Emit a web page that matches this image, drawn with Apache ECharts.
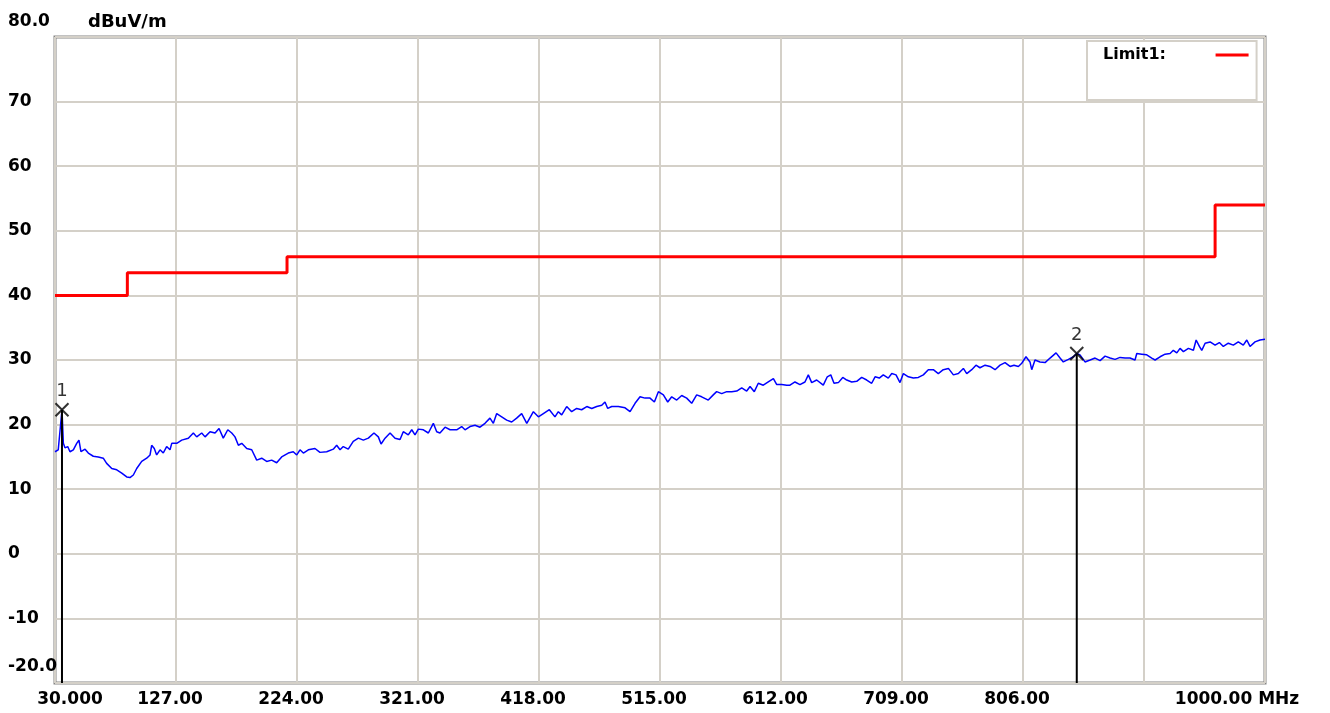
<!DOCTYPE html>
<html>
<head>
<meta charset="utf-8">
<title>Radiated emission scan 30–1000 MHz</title>
<script src="https://cdn.jsdelivr.net/npm/echarts@6/dist/echarts.min.js"></script>
<style>
  html, body { margin: 0; padding: 0; background: #fff; }
  #chart { width: 1330px; height: 713px; }
</style>
</head>
<body>
<div id="chart"></div>
<script>
// Measured spectrum (frequency in MHz, level in dBuV/m)
const freqMHz = [
  30.0, 32.6, 34.0, 35.6, 36.7, 38.0, 40.2, 42.0, 44.7, 47.4, 49.2, 50.8, 54.1, 56.7, 60.7, 64.7,
  68.7, 71.4, 75.5, 79.5, 83.5, 87.5, 90.1, 92.8, 95.5, 99.5, 103.5, 106.2, 107.5, 109.6, 111.5, 114.2,
  116.8, 119.5, 122.2, 123.6, 127.6, 131.6, 136.9, 140.9, 143.6, 147.6, 150.3, 154.3, 158.3, 161.5, 164.9, 168.5,
  171.7, 174.3, 177.0, 179.7, 183.7, 187.7, 191.7, 195.7, 199.7, 203.7, 207.7, 211.7, 217.0, 221.0, 223.8, 226.4,
  229.1, 233.1, 238.4, 242.4, 247.8, 253.1, 255.8, 258.5, 261.1, 265.1, 269.1, 273.2, 277.2, 281.2, 285.7, 289.2,
  291.4, 294.6, 298.6, 302.6, 306.6, 309.2, 313.2, 316.0, 318.6, 321.3, 325.3, 329.3, 333.3, 336.0, 338.6, 342.7,
  346.7, 352.0, 356.0, 358.7, 362.7, 366.7, 370.7, 374.7, 378.7, 381.4, 384.1, 388.1, 392.1, 396.1, 400.1, 404.1,
  408.2, 413.5, 417.5, 421.5, 426.3, 430.8, 433.5, 436.2, 440.2, 444.2, 448.2, 452.2, 456.3, 460.3, 464.3, 468.3,
  470.9, 473.1, 476.3, 481.6, 487.0, 491.0, 495.0, 499.0, 503.0, 507.0, 510.5, 513.7, 517.7, 521.2, 524.4, 528.4,
  532.4, 536.4, 540.4, 544.4, 548.4, 553.7, 557.7, 560.4, 564.5, 568.5, 572.5, 576.5, 580.5, 584.5, 587.2, 590.6,
  593.8, 597.8, 601.8, 605.9, 608.6, 612.6, 616.6, 619.2, 623.2, 627.2, 631.2, 633.9, 636.6, 640.6, 645.9, 649.1,
  651.9, 654.5, 658.0, 661.5, 664.7, 668.7, 672.7, 676.7, 680.7, 684.7, 687.4, 690.8, 694.0, 698.0, 700.8, 704.2,
  707.4, 710.1, 714.1, 718.1, 722.1, 726.1, 730.1, 734.1, 738.1, 742.1, 746.2, 750.2, 754.2, 758.2, 760.9, 764.9,
  768.3, 771.5, 775.6, 779.6, 783.6, 787.6, 791.6, 795.6, 798.8, 802.3, 805.0, 808.4, 811.6, 813.0, 815.6, 819.6,
  823.7, 827.7, 832.5, 835.7, 838.3, 842.4, 846.4, 849.1, 851.7, 855.7, 859.8, 863.8, 867.8, 871.8, 875.8, 879.8,
  883.8, 887.8, 891.8, 895.8, 897.2, 901.2, 905.2, 909.2, 911.9, 915.9, 919.9, 923.9, 926.5, 929.3, 931.9, 934.6,
  938.6, 942.6, 944.8, 947.4, 949.3, 952.0, 956.0, 960.0, 963.4, 966.6, 970.6, 974.6, 978.6, 982.6, 985.4, 988.0,
  992.0, 996.0, 1000.0
];
const levelDb = [
  15.8, 16.1, 16.4, 22.3, 17.1, 16.4, 16.6, 15.8, 16.1, 17.1, 17.6, 15.8, 16.2, 15.6, 15.1, 15.0,
  14.8, 14.0, 13.2, 13.0, 12.5, 11.9, 11.8, 12.2, 13.2, 14.3, 14.8, 15.3, 16.8, 16.3, 15.3, 16.1,
  15.6, 16.6, 16.1, 17.1, 17.1, 17.6, 17.9, 18.7, 18.1, 18.7, 18.1, 18.9, 18.7, 19.4, 17.9, 19.2,
  18.7, 18.1, 16.8, 17.1, 16.3, 16.1, 14.5, 14.8, 14.3, 14.5, 14.1, 15.0, 15.6, 15.8, 15.3, 16.1,
  15.6, 16.1, 16.3, 15.7, 15.8, 16.2, 16.8, 16.1, 16.6, 16.2, 17.4, 17.9, 17.6, 17.9, 18.7, 18.1,
  17.0, 17.9, 18.7, 17.9, 17.7, 18.9, 18.4, 19.2, 18.4, 19.3, 19.2, 18.7, 20.2, 18.9, 18.7, 19.6,
  19.2, 19.2, 19.7, 19.2, 19.7, 19.9, 19.6, 20.2, 21.0, 20.2, 21.7, 21.2, 20.7, 20.4, 21.0, 21.7,
  20.2, 22.0, 21.2, 21.7, 22.3, 21.2, 22.0, 21.5, 22.8, 22.0, 22.5, 22.3, 22.8, 22.5, 22.8, 23.0,
  23.5, 22.5, 22.8, 22.8, 22.6, 22.0, 23.3, 24.3, 24.1, 24.1, 23.5, 25.1, 24.6, 23.5, 24.3, 23.8,
  24.5, 24.1, 23.3, 24.6, 24.3, 23.8, 24.6, 25.1, 24.8, 25.1, 25.1, 25.2, 25.7, 25.2, 25.9, 25.1,
  26.4, 26.1, 26.6, 27.1, 26.2, 26.2, 26.1, 26.1, 26.6, 26.2, 26.6, 27.7, 26.5, 26.9, 26.1, 27.4,
  27.7, 26.4, 26.5, 27.3, 26.9, 26.6, 26.7, 27.3, 26.9, 26.4, 27.4, 27.2, 27.7, 27.2, 27.9, 27.7,
  26.5, 27.9, 27.4, 27.2, 27.3, 27.7, 28.5, 28.5, 27.9, 28.5, 28.7, 27.7, 27.9, 28.7, 27.9, 28.5,
  29.2, 28.8, 29.2, 29.0, 28.5, 29.2, 29.6, 29.0, 29.2, 29.0, 29.5, 30.5, 29.7, 28.5, 30.0, 29.7,
  29.6, 30.3, 31.1, 30.3, 29.7, 30.1, 30.5, 31.0, 30.8, 29.7, 30.0, 30.3, 29.9, 30.6, 30.3, 30.1,
  30.4, 30.3, 30.3, 30.0, 31.0, 30.9, 30.8, 30.3, 30.0, 30.5, 30.9, 31.0, 31.5, 31.1, 31.8, 31.3,
  31.8, 31.5, 33.1, 32.1, 31.5, 32.6, 32.8, 32.3, 32.7, 32.1, 32.6, 32.3, 32.8, 32.3, 33.1, 32.1,
  32.8, 33.1, 33.2
];

// Limit line (stepped)
const limitFreq = [30, 88, 88, 216, 216, 960, 960, 1000];
const limitLevel = [40, 40, 43.5, 43.5, 46, 46, 54, 54];

// Peak markers
const markerNames = ['1', '2'];
const markerFreq = [35.6, 849.1];
const markerLevel = [22.3, 31.0];

// Axis tick labels
const xTickLabels = ['30.000', '127.00', '224.00', '321.00', '418.00', '515.00',
                     '612.00', '709.00', '806.00', '', '1000.00 MHz'];
const yTickLabels = ['-20.0', '-10', '0', '10', '20', '30', '40', '50', '60', '70', '80.0'];

const X_MIN = 30, X_MAX = 1000, X_STEP = 97;
const Y_MIN = -20, Y_MAX = 80, Y_STEP = 10;

const FONT = 'DejaVu Sans';
const GRID_COLOR = '#d4d0c8';

const chart = echarts.init(document.getElementById('chart'), null, { renderer: 'canvas' });

const traceData = freqMHz.map((f, i) => [f, levelDb[i]]);
const limitData = limitFreq.map((f, i) => [f, limitLevel[i]]);

const markerLineSeries = markerFreq.map((f, i) => ({
  type: 'line',
  name: 'marker-line-' + markerNames[i],
  data: [[f, Y_MIN], [f, markerLevel[i]]],
  showSymbol: false,
  symbol: 'none',
  silent: true,
  lineStyle: { color: '#000', width: 2 },
  z: 4
}));

const boldText = { fontFamily: FONT, fontWeight: 'bold', fontSize: 17, color: '#000' };

// legend caption, followed by spacing that pushes the swatch to the box's right edge
const LEGEND_CAPTION = 'Limit1:' + '\u00a0'.repeat(8);

const option = {
  animation: false,
  backgroundColor: '#ffffff',
  textStyle: { fontFamily: FONT },
  grid: {
    left: 55, top: 37, width: 1210, height: 646,
    show: true, borderColor: '#858585', borderWidth: 3, backgroundColor: '#fff'
  },
  legend: {
    data: [{ name: 'Limit1', icon: 'rect' }],
    left: 1087, top: 41,
    orient: 'horizontal',
    align: 'right',
    itemWidth: 33, itemHeight: 3,
    padding: [6, 8, 37, 16],
    backgroundColor: '#ffffff',
    borderColor: GRID_COLOR, borderWidth: 2, borderRadius: 0,
    selectedMode: false,
    formatter: () => LEGEND_CAPTION,
    textStyle: { fontFamily: FONT, fontWeight: 'bold', fontSize: 16, color: '#000' }
  },
  xAxis: {
    type: 'value', min: X_MIN, max: X_MAX, interval: X_STEP,
    axisLine: { show: false },
    axisTick: { show: false },
    splitLine: { show: true, lineStyle: { color: GRID_COLOR, width: 2 } },
    axisLabel: {
      margin: 8,
      ...boldText,
      showMinLabel: true, showMaxLabel: true,
      formatter: (v) => {
        const idx = Math.round((v - X_MIN) / X_STEP);
        const txt = xTickLabels[idx] || '';
        if (!txt) return '';
        if (idx === 0) return '{first|' + txt + '}';
        if (idx === xTickLabels.length - 1) return '{last|' + txt + '}';
        return '{mid|' + txt + '}';
      },
      rich: {
        first: { ...boldText, padding: [0, 0, 0, 30] },
        mid: { ...boldText, padding: [0, 12, 0, 0] },
        last: { ...boldText, padding: [0, 56, 0, 0] }
      }
    }
  },
  yAxis: {
    type: 'value', min: Y_MIN, max: Y_MAX, interval: Y_STEP,
    name: 'dBuV/m',
    nameLocation: 'end',
    nameGap: 15,
    nameTextStyle: {
      ...boldText, fontSize: 18,
      align: 'left', verticalAlign: 'middle', padding: [0, 0, 0, 33]
    },
    axisLine: { show: false },
    axisTick: { show: false },
    splitLine: { show: true, lineStyle: { color: GRID_COLOR, width: 2 } },
    axisLabel: {
      align: 'left',
      margin: 47,
      ...boldText,
      formatter: (v) => {
        const idx = Math.round((v - Y_MIN) / Y_STEP);
        const txt = yTickLabels[idx] || '';
        if (idx === yTickLabels.length - 1) return '{top|' + txt + '}';
        if (idx === 0) return '{bottom|' + txt + '}';
        return txt;
      },
      rich: {
        top: { ...boldText, padding: [0, 0, 30, 0] },
        bottom: { ...boldText, padding: [0, 0, 32, 0] }
      }
    }
  },
  series: [
    {
      type: 'line',
      name: 'Trace',
      data: traceData,
      showSymbol: false,
      symbol: 'none',
      silent: true,
      lineStyle: { color: '#0000ff', width: 1.5 },
      z: 3
    },
    {
      type: 'line',
      name: 'Limit1',
      data: limitData,
      showSymbol: false,
      symbol: 'none',
      silent: true,
      itemStyle: { color: '#ff0000' },
      lineStyle: { color: '#ff0000', width: 3 },
      z: 2
    },
    ...markerLineSeries,
    {
      type: 'scatter',
      name: 'Markers',
      data: markerFreq.map((f, i) => ({ value: [f, markerLevel[i]], name: markerNames[i] })),
      symbol: 'path://M0,0L10,10M10,0L0,10',
      symbolSize: 13,
      silent: true,
      itemStyle: { color: 'none', borderColor: '#000', borderWidth: 2 },
      label: {
        show: true, position: 'top', distance: 0,
        formatter: (p) => p.name,
        fontFamily: FONT, fontSize: 18, color: '#000'
      },
      z: 5
    }
  ]
};

chart.setOption(option);
</script>
</body>
</html>
